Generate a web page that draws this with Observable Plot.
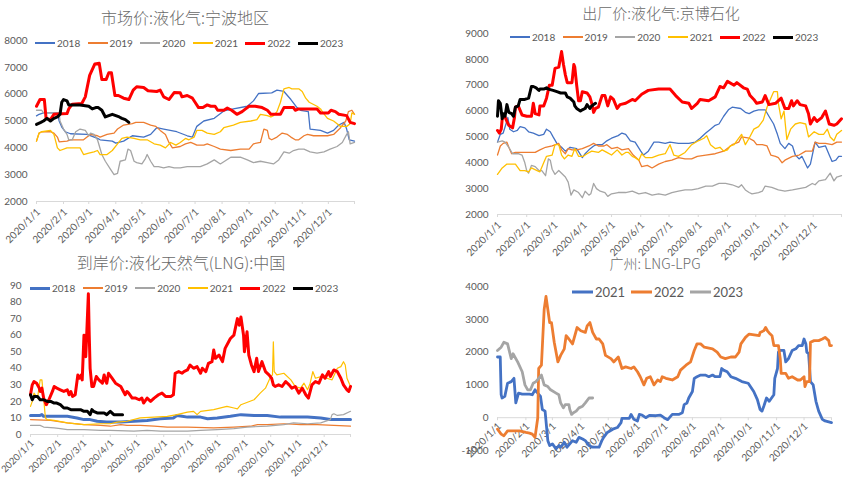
<!DOCTYPE html>
<html><head><meta charset="utf-8">
<script src="https://cdn.jsdelivr.net/npm/d3@7"></script>
<script src="https://cdn.jsdelivr.net/npm/@observablehq/plot@0.6"></script>
<style>
body{margin:0;background:#fff;}
#root{position:relative;width:850px;height:479px;overflow:hidden;background:#fff;font-family:Lato,"Noto Sans CJK SC",sans-serif;color:#595959;}
.panel{position:absolute;}
.title{position:absolute;white-space:nowrap;font-family:"Noto Sans CJK SC",sans-serif;font-weight:300;color:#6a6a6a;transform:translate(-50%,-50%);line-height:1;}
.leg{position:absolute;display:flex;align-items:center;white-space:nowrap;transform:translateY(-50%);color:#595959;font-family:Lato,sans-serif;line-height:1;}
.leg span.l{display:inline-block;margin-right:2px;}
</style>
</head><body><div id="root"></div>
<script>
// ---------- data: [day of 2020 (0 = 1/1), value] ----------
// Panel 1: 市场价:液化气:宁波地区
const nb2018 = [[0,5190],[3,5250],[8,5300],[24,5300],[26,5000],[29,4775],[33,4600],[39,4525],[58,4500],[70,4350],[73,4300],[87,4250],[91,4175],[100,4250],[110,4450],[123,4400],[131,4500],[138,4750],[146,4700],[161,4600],[173,4450],[179,4400],[184,4800],[192,5000],[204,5100],[215,5375],[226,5450],[242,5550],[249,5750],[255,6025],[270,6050],[276,6150],[284,6100],[292,5800],[299,5500],[303,5400],[312,5350],[314,4700],[326,4650],[334,4550],[341,4650],[347,4850],[353,4950],[356,4700],[359,4300],[365,4250]];
const nb2019 = [[0,4250],[3,4550],[6,4600],[16,4600],[20,4550],[24,4400],[26,4225],[35,4250],[39,4300],[54,4300],[58,4400],[62,4500],[70,4450],[73,4400],[81,4500],[89,4550],[93,4700],[100,4850],[110,4900],[114,4950],[123,4950],[131,4850],[137,4800],[142,4650],[148,4500],[152,4200],[156,4000],[165,4050],[171,4150],[177,4200],[181,4150],[184,4100],[192,4100],[196,4150],[204,4050],[211,3950],[223,3900],[234,3950],[244,3950],[249,4150],[257,4200],[261,4700],[265,4650],[267,4350],[270,4300],[276,4400],[282,4550],[288,4500],[292,4400],[297,4300],[301,4300],[307,4450],[311,4500],[318,4450],[334,4450],[341,4500],[349,4750],[355,5000],[358,5350],[362,5400],[365,5250]];
const nb2020 = [[0,5400],[6,5400],[8,5300],[26,5300],[27,5000],[31,4700],[35,4500],[37,4300],[41,4300],[45,4600],[50,4700],[56,4650],[60,4450],[62,4550],[66,4500],[70,4300],[75,3750],[79,3500],[85,3200],[89,3000],[93,3050],[96,3500],[102,3550],[105,3950],[108,3900],[112,3500],[115,3450],[121,3400],[125,3600],[127,3750],[131,3500],[135,3300],[140,3300],[146,3250],[152,3300],[158,3250],[165,3250],[173,3300],[181,3300],[188,3300],[196,3400],[204,3550],[211,3400],[223,3650],[234,3650],[242,3550],[249,3450],[257,3500],[265,3450],[272,3400],[278,3550],[284,3850],[290,3800],[295,3900],[301,3950],[307,3950],[314,3850],[322,3800],[330,3850],[337,3950],[345,4050],[351,4200],[356,4500],[358,4600],[360,4150],[365,4200]];
const nb2021 = [[0,4250],[3,4550],[6,4600],[16,4650],[20,4500],[24,4000],[27,3900],[35,4000],[50,4000],[54,3750],[60,3800],[66,3850],[70,3900],[73,3750],[81,3750],[87,3900],[93,4150],[98,4350],[104,4400],[112,4350],[119,4300],[127,4300],[135,4150],[142,4100],[148,4000],[154,4200],[160,4100],[165,4200],[171,4350],[175,4300],[181,4400],[184,4650],[190,4650],[196,4550],[204,4500],[211,4600],[215,4750],[226,4850],[234,4950],[246,5000],[253,5050],[257,5250],[265,5200],[269,5150],[272,5200],[276,5350],[280,5700],[284,6200],[290,6250],[293,6200],[301,6200],[305,6100],[309,5850],[313,5700],[322,5550],[326,5450],[329,5300],[334,5100],[341,5000],[345,4900],[349,4800],[356,4800],[360,4900],[362,5300],[365,5250]];
const nb2022 = [[0,5550],[4,5800],[9,5800],[11,5100],[16,5050],[20,5250],[35,5275],[37,5450],[41,5625],[52,5650],[56,5900],[61,6700],[67,7125],[72,7150],[75,6550],[80,6550],[83,6800],[86,6800],[90,5950],[94,5950],[100,5850],[106,5800],[111,6150],[115,6275],[123,6250],[128,6125],[138,6100],[142,6150],[146,5900],[152,5800],[158,6060],[165,6050],[167,5900],[173,5950],[179,5850],[182,5700],[186,5500],[191,5500],[196,5600],[200,5550],[205,5550],[208,5400],[215,5400],[219,5480],[224,5400],[230,5250],[236,5350],[240,5450],[244,5550],[251,5550],[259,5500],[265,5400],[269,5250],[280,5250],[284,5500],[295,5500],[297,5400],[301,5450],[322,5450],[326,5300],[335,5300],[338,5400],[343,5350],[347,5250],[356,5200],[360,4950],[365,4900]];
const nb2023 = [[0,4875],[5,4950],[8,5000],[12,5100],[16,5000],[20,5100],[24,5150],[27,5250],[29,5700],[31,5800],[35,5750],[37,5600],[41,5600],[50,5600],[60,5550],[64,5450],[68,5500],[71,5500],[75,5400],[79,5150],[83,5200],[87,5250],[91,5200],[95,5150],[98,5100],[102,5050],[106,4950]];

// Panel 2: 出厂价:液化气:京博石化
const jb2018 = [[0,4800],[3,5100],[6,5150],[9,5500],[11,5750],[13,5300],[17,5200],[21,5250],[24,5400],[29,5350],[33,5200],[38,5150],[44,5050],[49,5100],[52,5300],[56,5200],[59,5000],[63,4750],[68,4600],[72,4450],[77,4600],[84,4550],[90,4200],[93,4350],[97,4500],[102,4650],[105,4700],[111,4700],[116,4850],[121,4950],[128,5050],[132,5150],[136,5100],[141,4850],[146,4800],[152,4450],[155,4300],[160,4450],[166,4800],[171,4800],[178,4750],[183,4800],[192,4750],[203,4750],[210,4800],[215,4950],[221,5150],[226,5300],[231,5450],[235,5500],[240,5800],[245,6050],[249,6150],[258,6100],[263,5950],[267,5900],[272,6000],[277,6050],[284,6050],[288,5800],[293,5500],[297,5100],[300,4750],[305,4550],[309,4750],[313,4650],[316,4300],[320,4150],[323,4250],[329,3800],[332,3950],[337,4800],[341,4600],[348,4650],[352,4300],[355,4050],[359,4100],[362,4250],[365,4250]];
const jb2019 = [[0,4300],[3,4650],[6,4750],[10,4800],[12,4600],[15,4350],[19,4400],[26,4400],[40,4400],[45,4500],[51,4600],[58,4650],[65,4750],[68,4500],[72,4350],[75,4550],[79,4500],[84,4500],[90,4550],[97,4650],[102,4750],[107,4650],[113,4650],[116,4700],[121,4550],[127,4600],[132,4500],[139,4550],[144,4300],[150,4100],[153,3850],[159,3900],[164,3800],[171,3950],[178,4050],[185,4100],[192,4200],[199,4150],[206,4150],[212,4250],[221,4300],[231,4350],[240,4450],[249,4700],[256,4800],[259,5000],[267,4950],[272,4850],[275,4700],[281,4700],[286,4650],[290,4300],[295,4250],[298,4200],[302,4000],[305,4100],[313,4250],[320,4300],[327,4450],[334,4450],[337,4800],[341,4750],[348,4750],[355,4700],[360,4800],[365,4800]];
const jb2020 = [[0,4800],[5,4850],[8,4800],[12,4600],[16,4350],[22,4350],[26,4300],[29,4000],[31,3700],[33,3600],[36,3900],[40,3850],[44,3700],[47,3700],[51,3500],[54,4150],[56,4100],[58,3750],[61,3550],[65,3700],[72,3450],[75,3250],[78,2750],[81,2950],[86,2850],[90,2650],[93,2900],[97,2750],[99,2800],[102,3200],[105,3000],[109,2900],[114,2850],[117,2700],[121,2800],[128,2850],[136,2850],[143,2900],[150,2800],[157,2850],[164,2750],[171,2800],[178,2750],[185,2850],[192,2900],[199,2950],[206,2950],[213,3000],[221,3100],[228,3100],[235,3200],[242,3200],[249,3150],[256,3050],[259,3150],[263,2950],[267,2850],[270,2800],[277,2850],[281,2900],[284,3100],[291,3050],[298,2950],[305,2900],[313,2950],[320,3000],[327,3050],[334,3200],[337,3150],[341,3300],[348,3350],[353,3600],[357,3300],[360,3450],[365,3500]];
const jb2021 = [[0,3550],[5,3800],[10,3950],[19,3950],[24,3700],[29,3700],[33,3650],[36,3800],[42,3700],[45,3650],[49,4000],[52,4250],[58,4300],[61,4700],[65,4700],[68,4300],[71,4150],[75,4300],[79,4250],[82,4550],[86,4250],[91,4250],[95,4350],[100,4450],[107,4400],[111,4500],[116,4400],[121,4300],[127,4500],[132,4300],[136,4400],[139,4400],[143,4250],[146,4200],[150,4100],[153,4350],[157,4200],[164,4200],[171,4300],[178,4350],[183,4700],[187,4300],[192,4250],[199,4400],[206,4700],[213,4850],[219,4950],[222,5050],[226,4700],[231,4550],[236,4600],[240,4450],[244,4500],[247,4650],[251,4700],[256,4950],[259,5100],[263,4700],[267,4950],[272,5300],[277,5400],[282,5650],[286,6150],[290,6500],[293,6750],[297,6750],[298,6300],[301,5700],[304,6000],[307,4900],[311,5300],[316,5500],[321,5550],[327,5500],[330,5000],[336,5200],[341,5100],[346,5100],[350,5300],[353,5000],[357,4850],[360,5100],[365,5250]];
const jb2022 = [[0,5250],[2,5150],[4,5300],[5,5700],[7,5850],[10,5600],[12,5450],[16,5350],[18,5750],[19,6150],[22,6200],[26,5850],[31,5800],[36,5800],[38,6300],[40,5900],[44,5850],[45,6200],[49,6200],[52,6500],[55,7000],[58,7000],[61,7650],[65,7700],[68,8300],[70,7800],[72,7400],[74,7100],[79,7100],[81,7800],[82,7700],[84,7000],[86,6400],[88,6400],[90,6750],[95,6700],[98,6550],[100,6300],[102,5950],[104,6100],[107,6150],[111,6600],[114,6600],[117,6200],[120,6550],[123,6450],[127,6100],[130,6250],[136,6300],[143,6450],[146,6400],[153,6650],[160,6800],[171,6850],[183,6850],[189,6600],[196,6350],[203,6300],[206,6100],[212,6300],[215,6450],[224,6400],[231,6550],[236,6950],[240,6900],[244,7150],[251,7000],[254,7100],[261,6900],[265,6850],[268,6600],[272,6450],[275,6300],[281,6350],[284,6600],[288,6250],[295,6300],[301,6500],[305,6100],[309,6100],[312,6400],[314,6200],[318,6400],[321,6250],[327,6200],[330,5900],[332,5500],[336,5750],[339,5600],[344,5750],[348,6000],[352,5500],[357,5450],[360,5500],[365,5700]];
const jb2023 = [[0,5800],[1,6400],[3,6300],[5,5700],[6,5900],[8,5800],[10,6250],[12,5950],[15,5900],[17,5800],[19,6150],[22,6200],[24,6450],[29,6450],[33,6500],[36,6950],[38,6950],[41,6900],[44,6800],[45,6850],[49,6850],[52,6900],[54,6850],[59,6800],[63,6750],[67,6700],[72,6700],[74,6550],[77,6500],[81,6350],[82,6200],[84,6100],[88,6000],[90,6050],[93,6100],[95,6250],[97,6150],[98,6100],[100,6200],[102,6250],[104,6300]];

// Panel 3: 到岸价:液化天然气(LNG):中国
const lng2018 = [[0,11.5],[11,11.5],[13,12],[15,11],[27,11],[42,11],[53,10],[61,9],[68,9],[76,8],[87,7.5],[103,7.5],[118,8],[133,8.5],[148,9.5],[163,10],[167,11.5],[173,11],[179,10.5],[194,10.5],[202,9.5],[213,10],[228,11],[240,12],[255,11.5],[270,11.5],[285,10.5],[300,10.5],[316,10.5],[331,10],[342,9],[350,9],[365,9]];
const lng2019 = [[0,9],[23,8.5],[42,7],[61,6],[80,5.5],[91,5],[103,6],[110,5.5],[125,5.5],[141,5],[156,4.5],[179,4.5],[209,4],[232,4.5],[251,5],[259,6],[270,6],[289,6.5],[308,6],[327,6],[346,5.5],[365,5]];
const lng2020 = [[0,5.5],[11,5.5],[15,4.5],[27,4],[34,3.5],[42,3],[61,3],[80,2.5],[91,2.5],[118,2],[133,2.5],[148,2],[179,2],[194,2.5],[213,3],[232,3.5],[247,4.5],[270,5],[289,6],[300,7],[316,6.5],[331,7],[342,9],[344,12],[346,12.5],[350,11.5],[357,12],[365,14]];
const lng2021 = [[0,17],[2,20],[4,25],[8,22],[11,33],[13,33],[15,22],[17,10],[19,9],[27,8.5],[42,7],[61,6],[80,6.5],[91,6.5],[99,7.5],[110,8],[125,10],[141,10.5],[156,11],[167,12],[179,13.5],[186,14],[190,12],[194,14],[209,15],[224,17],[232,16],[236,15.5],[240,18],[255,21],[262,25],[268,28],[274,35],[276,36],[277,56],[278,38],[281,36],[289,37],[297,33],[302,29],[308,28],[312,31],[316,27],[319,31],[322,38],[325,34],[331,35],[338,34],[344,33],[350,40],[354,41],[357,44],[359,42],[361,34],[365,29]];
const lng2022 = [[0,24],[2,30],[4,32],[7,31],[10,28],[11,26],[13,28],[15,22],[18,18],[21,21],[25,26],[27,29],[30,28],[34,27],[38,26],[42,27],[44,24],[46,26],[48,23],[51,24],[54,36],[56,34],[58,36],[59,33],[61,60],[63,47],[64,59],[66,85],[67,60],[68,40],[70,29],[72,29],[75,35],[78,33],[82,31],[84,36],[86,32],[87,31],[89,37],[93,34],[97,31],[103,29],[106,26],[108,24],[110,26],[112,25],[116,22],[120,22],[124,21],[127,22],[129,19],[133,22],[137,20],[141,22],[146,24],[150,25],[154,23],[160,23],[163,24],[165,37],[169,38],[173,37],[175,38],[179,39],[182,42],[186,40],[190,41],[194,37],[196,40],[200,38],[203,43],[207,44],[209,51],[211,46],[215,48],[219,44],[222,52],[228,58],[232,60],[236,70],[238,66],[240,71],[243,60],[244,50],[247,62],[249,48],[252,42],[255,38],[258,46],[260,38],[264,44],[268,38],[272,36],[275,34],[277,30],[279,29],[283,30],[287,29],[291,32],[295,30],[298,28],[302,29],[306,25],[310,28],[314,24],[317,22],[321,30],[325,32],[329,31],[333,36],[336,34],[340,38],[342,35],[346,39],[350,38],[354,34],[357,30],[361,27],[363,26],[365,29]];
const lng2023 = [[0,24],[2,21],[4,23],[8,23],[11,21],[15,21],[19,20],[23,20],[27,19],[30,19],[34,18],[38,16],[42,16],[46,15],[49,15],[57,15],[61,14],[65,14],[68,12],[70,15],[72,14],[76,13],[84,13],[87,12],[91,14],[95,12],[105,12]];

// Panel 4: 广州: LNG-LPG
const gz2021 = [[0,1850],[3,1850],[4,700],[5,600],[8,650],[11,1050],[15,1100],[18,1200],[20,450],[23,750],[27,720],[35,720],[38,700],[41,850],[44,750],[47,650],[49,250],[52,200],[55,-700],[57,-850],[60,-800],[64,-950],[67,-850],[69,-900],[73,-750],[76,-900],[82,-700],[86,-750],[89,-600],[93,-650],[96,-700],[100,-850],[104,-900],[111,-900],[114,-700],[116,-600],[120,-450],[126,-350],[131,-300],[135,-150],[136,-20],[144,-20],[146,100],[149,-50],[153,-100],[155,100],[158,80],[162,0],[166,70],[173,60],[178,80],[182,0],[186,-60],[191,100],[198,100],[202,150],[204,400],[207,450],[209,600],[213,800],[215,1200],[218,1250],[222,1300],[227,1300],[231,1250],[235,1300],[238,1250],[243,1250],[245,1500],[247,1450],[251,1400],[255,1250],[260,1200],[267,1100],[274,1050],[280,800],[284,550],[287,250],[289,200],[291,350],[294,600],[297,500],[302,700],[303,1200],[306,1500],[307,2000],[309,2050],[313,2050],[315,1700],[318,1800],[322,2050],[326,2100],[329,2200],[333,2200],[335,2400],[337,2250],[338,2000],[340,1950],[342,1100],[345,1000],[348,500],[351,200],[355,-50],[358,-100],[365,-150]];
const gz2022 = [[0,-350],[4,-500],[7,-550],[11,-400],[16,-400],[24,-400],[31,-450],[35,-470],[38,-500],[41,-600],[44,0],[45,1500],[48,1600],[51,3300],[53,3700],[55,3300],[57,2900],[59,2900],[62,2300],[66,1700],[69,1900],[73,2100],[75,2500],[78,2400],[82,2250],[87,2750],[91,2650],[96,2600],[98,2800],[101,2900],[104,2600],[108,2400],[111,2400],[115,2250],[118,1900],[124,1800],[127,1700],[132,1850],[136,1500],[140,1550],[146,1500],[149,1550],[153,1400],[156,1250],[160,1000],[163,1200],[167,1250],[171,1000],[175,1150],[178,1100],[180,1250],[184,1200],[191,1150],[197,1250],[200,1450],[206,1600],[211,1700],[215,2050],[218,2250],[222,2250],[226,2150],[235,2100],[240,2000],[244,1850],[249,1800],[255,1850],[260,1850],[264,2000],[266,2250],[271,2450],[275,2550],[286,2500],[287,2600],[291,2650],[293,2750],[295,2650],[298,2550],[300,2500],[302,2200],[307,2200],[309,1800],[310,1350],[315,1350],[318,1200],[322,1250],[328,1150],[331,1150],[335,1250],[336,950],[338,1100],[341,1100],[342,2300],[346,2350],[351,2350],[355,2400],[358,2450],[362,2350],[363,2200],[365,2200]];
const gz2023 = [[0,2050],[4,2150],[7,2300],[11,2250],[15,1800],[17,1950],[22,1700],[27,1400],[30,1000],[33,850],[36,850],[39,1050],[42,1100],[45,1200],[48,1300],[51,1000],[55,950],[58,850],[64,750],[67,700],[69,450],[72,300],[74,400],[78,400],[79,250],[81,100],[83,150],[86,200],[89,300],[93,350],[96,450],[100,600],[104,600]];

// Tick labels / titles
const monthLabels = ["2020/1/1","2020/2/1","2020/3/1","2020/4/1","2020/5/1","2020/6/1","2020/7/1","2020/8/1","2020/9/1","2020/10/1","2020/11/1","2020/12/1"];
const years6 = ["2018","2019","2020","2021","2022","2023"];
const years3 = ["2021","2022","2023"];
const titles = ["市场价:液化气:宁波地区","出厂价:液化气:京博石化","到岸价:液化天然气(LNG):中国","广州: LNG-LPG"];
const ticks1 = [2000,3000,4000,5000,6000,7000,8000];
const ticks2 = [2000,3000,4000,5000,6000,7000,8000,9000];
const ticks3 = [0,10,20,30,40,50,60,70,80,90];
const ticks4 = [-1000,0,1000,2000,3000,4000];

// ---------- rendering ----------
const C = {b:"#4472C4", o:"#ED7D31", g:"#A5A5A5", y:"#FFC000", r:"#FF0000", k:"#000000"};
const day0 = Date.UTC(2020,0,1);
const toDate = d => new Date(day0 + d*864e5);
const monthDates = d3.range(12).map(m => new Date(Date.UTC(2020,m,1)));
const tickDates = monthDates.concat([toDate(365)]);
const root = document.getElementById("root");

function panel(cfg){
  const {left, top, width, height, mL, mR, mT, mB, yDomain, yTicks, series, base, labelDy, tickLen, labelSize} = cfg;
  const unit = (yDomain[1]-yDomain[0])/(height-mT-mB);
  const marks = [
    Plot.ruleY([base], {stroke:"#d9d9d9", strokeWidth:1}),
    Plot.ruleX(tickDates, {x:d=>d, y1:()=>base, y2:()=>base - tickLen*unit, stroke:"#d9d9d9"}),
    Plot.text(monthDates, {x:d=>d, y:()=>base, text:(d,i)=>monthLabels[i], rotate:-45, textAnchor:"end", dy:labelDy, dx:2, fill:"#595959", fontSize:labelSize||10}),
    ...series.map(s => Plot.line(s.data, {x:d=>toDate(d[0]), y:d=>d[1], stroke:s.color, strokeWidth:s.w, strokeLinejoin:"round", strokeLinecap:"round"}))
  ];
  const svg = Plot.plot({
    width, height, marginLeft:mL, marginRight:mR, marginTop:mT, marginBottom:mB,
    style:{background:"transparent", overflow:"visible", color:"#595959", fontSize:"10px", fontFamily:"Lato, sans-serif"},
    x:{type:"utc", domain:[toDate(0), toDate(365)], axis:null},
    y:{domain:yDomain, ticks:yTicks, tickSize:0, tickPadding:cfg.tickPad||9, label:null, tickFormat:d=>String(d)},
    marks
  });
  const div = document.createElement("div");
  div.className = "panel";
  div.style.left = left+"px"; div.style.top = top+"px";
  div.appendChild(svg);
  root.appendChild(div);
}
function title(text, x, y, size){
  const d = document.createElement("div");
  d.className = "title"; d.textContent = text;
  d.style.left = x+"px"; d.style.top = y+"px"; d.style.fontSize = size+"px";
  root.appendChild(d);
}
function legend(items, x0, step, y, len, fs){
  items.forEach((it,i)=>{
    const d = document.createElement("div");
    d.className = "leg";
    d.style.left = (x0 + i*step)+"px"; d.style.top = y+"px"; d.style.fontSize = fs+"px";
    const l = document.createElement("span"); l.className="l";
    l.style.width = len+"px"; l.style.height = it.w+"px"; l.style.background = it.color;
    const t = document.createElement("span"); t.textContent = it.label;
    d.appendChild(l); d.appendChild(t);
    root.appendChild(d);
  });
}

const s1 = [
  {label:years6[0], data:nb2018, color:C.b, w:1.3},
  {label:years6[1], data:nb2019, color:C.o, w:1.3},
  {label:years6[2], data:nb2020, color:C.g, w:1.3},
  {label:years6[3], data:nb2021, color:C.y, w:1.3},
  {label:years6[4], data:nb2022, color:C.r, w:3},
  {label:years6[5], data:nb2023, color:C.k, w:3}
];
const s2 = [
  {label:years6[0], data:jb2018, color:C.b, w:1.3},
  {label:years6[1], data:jb2019, color:C.o, w:1.3},
  {label:years6[2], data:jb2020, color:C.g, w:1.3},
  {label:years6[3], data:jb2021, color:C.y, w:1.3},
  {label:years6[4], data:jb2022, color:C.r, w:3},
  {label:years6[5], data:jb2023, color:C.k, w:3}
];
const s3 = [
  {label:years6[0], data:lng2018, color:C.b, w:3},
  {label:years6[1], data:lng2019, color:C.o, w:1.2},
  {label:years6[2], data:lng2020, color:C.g, w:1.2},
  {label:years6[3], data:lng2021, color:C.y, w:1.2},
  {label:years6[4], data:lng2022, color:C.r, w:3},
  {label:years6[5], data:lng2023, color:C.k, w:3}
];
const s4 = [
  {label:years3[0], data:gz2021, color:C.b, w:2.8},
  {label:years3[1], data:gz2022, color:C.o, w:2.8},
  {label:years3[2], data:gz2023, color:C.g, w:2.8}
];

panel({left:0, top:0, width:425, height:240, mL:36, mR:71, mT:40, mB:39, yDomain:[2000,8000], yTicks:ticks1, series:s1, base:2000, labelDy:9, tickLen:3});
panel({left:425, top:0, width:425, height:240, mL:72, mR:9, mT:33, mB:26, yDomain:[2000,9000], yTicks:ticks2, series:s2, base:2000, labelDy:9, tickLen:3});
panel({left:0, top:240, width:425, height:239, mL:30, mR:75, mT:45, mB:45, yDomain:[0,90], yTicks:ticks3, series:s3, base:0, labelDy:7, tickLen:3, labelSize:9.5});
panel({left:425, top:240, width:425, height:239, mL:72, mR:19, mT:46, mB:29, yDomain:[-1000,4000], yTicks:ticks4, series:s4, base:0, labelDy:7, tickLen:3});

title(titles[0], 185, 17, 16);
title(titles[1], 661, 12, 15);
title(titles[2], 181, 262, 16);
title(titles[3], 655, 263, 14);

legend(s1, 35, 52.6, 43, 20, 10);
legend(s2, 510, 52.6, 37, 20, 10);
legend(s3, 30, 52.6, 288, 20, 10);
legend(s4, 572, 59, 292, 21, 13);
</script>
</body></html>
